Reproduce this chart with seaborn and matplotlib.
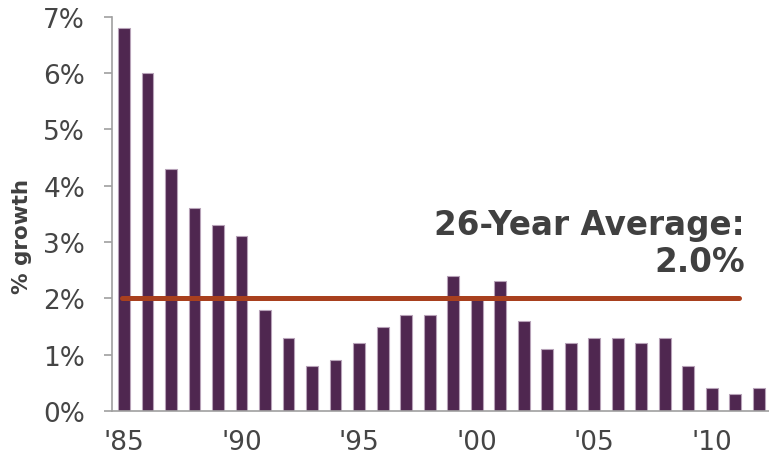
import matplotlib
matplotlib.use("Agg")
import matplotlib.pyplot as plt
import seaborn as sns
import pandas as pd
import numpy as np

years = list(range(1985, 2013))
growth = [6.8, 6.0, 4.3, 3.6, 3.3, 3.1, 1.8, 1.3, 0.8, 0.9, 1.2, 1.5, 1.7, 1.7,
          2.4, 2.0, 2.3, 1.6, 1.1, 1.2, 1.3, 1.3, 1.2, 1.3, 0.8, 0.4, 0.3, 0.4]
tick_labels = ["'85", "'90", "'95", "'00", "'05", "'10"]
y_ticks = [0, 1, 2, 3, 4, 5, 6, 7]
average = 2.0
avg_label = "26-Year Average:\n2.0%"

sns.set_style("white")
plt.rcParams['font.family'] = ['DejaVu Sans']

df = pd.DataFrame({"year": years, "growth": growth})

fig = plt.figure(figsize=(7.69, 4.60), dpi=100)
ax = fig.add_axes([0.146, 0.1043, 0.856, 0.857])

sns.barplot(data=df, x="year", y="growth", color="#4F2750", saturation=1,
            width=0.5, edgecolor="#B7A2B8", linewidth=0.8, ax=ax)

n = len(years)
ax.set_xlim(-0.5, n - 0.5)
ax.set_ylim(0, 7)

# average line
ax.plot([-0.07, 26.17], [average, average], color="#A8401E", lw=3.6,
        solid_capstyle="round", zorder=5)
ax.text(26.4, 2.98, avg_label, ha="right", va="center", fontsize=23.5,
        fontweight="bold", color="#404040", linespacing=1.15)

# x ticks: marks at boundaries, labels at every 5 years
ax.set_xticks(np.arange(-0.5, n, 1.0), minor=True)
ax.set_xticks([years.index(y) for y in (1985, 1990, 1995, 2000, 2005, 2010)])
ax.set_xticklabels(tick_labels)
ax.tick_params(axis="x", which="major", length=0, pad=13, labelsize=19,
               labelcolor="#454545")
ax.tick_params(axis="x", which="minor", length=6, width=1.2, color="#A0A0A0",
               direction="out")

ax.set_yticks(y_ticks)
ax.set_yticklabels([f"{v}%" for v in y_ticks])
ax.tick_params(axis="y", length=6, width=1.2, color="#A0A0A0", direction="out",
               labelsize=19, labelcolor="#454545", pad=13.5)
ax.tick_params(axis="both", bottom=True, left=True)

ax.set_xlabel("")
ax.set_ylabel("% growth", fontsize=15.5, fontweight="bold", color="#404040")
ax.yaxis.set_label_coords(-0.122, 0.446)

for s in ["top", "right"]:
    ax.spines[s].set_visible(False)
for s in ["left", "bottom"]:
    ax.spines[s].set_color("#A0A0A0")
    ax.spines[s].set_linewidth(1.2)

fig.savefig("out.png", dpi=100)
